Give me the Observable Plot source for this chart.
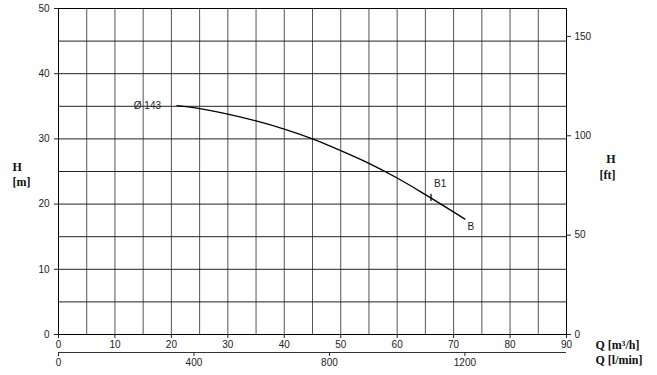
<!DOCTYPE html>
<html>
<head>
<meta charset="utf-8">
<script src="https://cdn.jsdelivr.net/npm/d3@7"></script>
<script src="https://cdn.jsdelivr.net/npm/@observablehq/plot@0.6"></script>
<style>
  html, body { margin: 0; padding: 0; background: #fff; }
  #chart { width: 657px; height: 375px; }
</style>
</head>
<body>
<div id="chart"></div>
<script>
// Pump curve data (Q in m³/h, H in m)
const flowQ = [21, 25, 30, 35, 40, 45, 50, 55, 60, 65, 72];
const headH = [35.1, 34.65, 33.8, 32.75, 31.5, 30.0, 28.2, 26.25, 24.0, 21.45, 17.7];

// Operating point marker B1
const b1Q = [66];
const b1H1 = [20.4];
const b1H2 = [21.5];

// Tick labels
const xTicks = [0, 10, 20, 30, 40, 50, 60, 70, 80, 90];
const yTicks = [0, 10, 20, 30, 40, 50];
const ftTicks = [0, 50, 100, 150];
const lminTicks = [0, 400, 800, 1200];
const gridX = [0, 5, 10, 15, 20, 25, 30, 35, 40, 45, 50, 55, 60, 65, 70, 75, 80, 85, 90];
const gridY = [0, 5, 10, 15, 20, 25, 30, 35, 40, 45, 50];

const M_TO_FT = 3.28084;
const LMIN_TO_M3H = 0.06;
const serif = "'Liberation Serif', 'DejaVu Serif', serif";

const curve = flowQ.map((q, i) => ({q, h: headH[i]}));
const b1 = b1Q.map((q, i) => ({q, h1: b1H1[i], h2: b1H2[i]}));

const chart = Plot.plot({
  width: 657,
  height: 375,
  marginLeft: 58,
  marginRight: 91,
  marginTop: 8,
  marginBottom: 41,
  x: {domain: [0, 90]},
  y: {domain: [0, 50]},
  style: {fontFamily: "'Liberation Sans', Arial, sans-serif", fontSize: "10px", color: "#222", background: "#fff"},
  marks: [
    Plot.ruleX(gridX, {stroke: "#555", strokeWidth: 1}),
    Plot.ruleY(gridY, {stroke: "#222", strokeWidth: 1}),
    Plot.frame({stroke: "#000", strokeWidth: 1}),
    Plot.axisY(yTicks, {anchor: "left", tickSize: 4, tickPadding: 5, label: null}),
    Plot.axisY(ftTicks.map(f => f / M_TO_FT), {anchor: "right", tickSize: 4, tickPadding: 4, tickFormat: d => String(Math.round(d * M_TO_FT)), label: null}),
    Plot.axisX(xTicks, {anchor: "bottom", tickSize: 4, tickPadding: 2, label: null}),
    Plot.ruleY([0], {dy: 18, stroke: "#333"}),
    Plot.axisX(lminTicks.map(v => v * LMIN_TO_M3H), {anchor: "bottom", tickSize: 4, tickPadding: 2, dy: 18, tickFormat: d => String(Math.round(d / LMIN_TO_M3H)), label: null}),
    Plot.line(curve, {x: "q", y: "h", curve: "monotone-x", stroke: "#000", strokeWidth: 1.3}),
    Plot.ruleX(b1, {x: "q", y1: "h1", y2: "h2", stroke: "#000", strokeWidth: 1.2}),
    Plot.text([curve[0]], {x: "q", y: "h", text: () => "Ø 143", textAnchor: "end", dx: -16, fontSize: 10}),
    Plot.text(b1, {x: "q", y: "h2", text: () => "B1", textAnchor: "start", dx: 3, dy: -11, fontSize: 10}),
    Plot.text([curve[curve.length - 1]], {x: "q", y: "h", text: () => "B", textAnchor: "middle", dx: 6, dy: 8, fontSize: 10}),
    Plot.text(["H"], {frameAnchor: "left", text: d => d, dx: -46, dy: -4, fontFamily: serif, fontWeight: "bold", fontSize: 12, fill: "#111"}),
    Plot.text(["[m]"], {frameAnchor: "left", text: d => d, dx: -46, dy: 11, fontFamily: serif, fontWeight: "bold", fontSize: 12, fill: "#111"}),
    Plot.text(["H"], {frameAnchor: "right", text: d => d, dx: 49, dy: -12, fontFamily: serif, fontWeight: "bold", fontSize: 12, fill: "#111"}),
    Plot.text(["[ft]"], {frameAnchor: "right", text: d => d, dx: 49, dy: 4, fontFamily: serif, fontWeight: "bold", fontSize: 12, fill: "#111"}),
    Plot.text(["Q [m³/h]"], {frameAnchor: "bottom-right", text: d => d, textAnchor: "start", dx: 29, dy: 14, fontFamily: serif, fontWeight: "bold", fontSize: 12, fill: "#111"}),
    Plot.text(["Q [l/min]"], {frameAnchor: "bottom-right", text: d => d, textAnchor: "start", dx: 29, dy: 29, fontFamily: serif, fontWeight: "bold", fontSize: 12, fill: "#111"})
  ]
});
document.getElementById("chart").appendChild(chart);
</script>
</body>
</html>
